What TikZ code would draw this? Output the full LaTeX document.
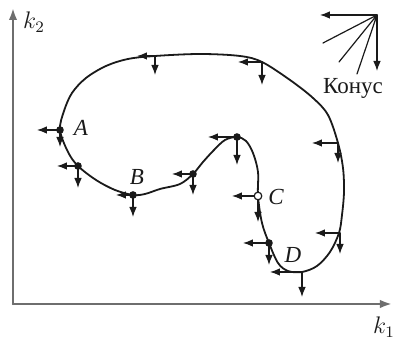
\documentclass[tikz,border=0pt]{standalone}
\usepackage{fontspec}
\setmainfont{Liberation Serif}
\usepackage{tikz}
\usetikzlibrary{arrows.meta,calc}
\definecolor{konink}{HTML}{1A1A1A}
\definecolor{konaxis}{HTML}{6E6E6E}
\begin{document}
\begin{tikzpicture}[x=0.5pt,y=-0.5pt,line cap=round,line join=round,
  font=\fontsize{11.5}{13}\selectfont,text=konink,
  arr/.style={draw=konink,line width=0.6pt,-{Latex[length=5pt,width=3.8pt]}},
  axis/.style={draw=konaxis,line width=1.1pt,-{Latex[length=6pt,width=4.2pt]}},
  dot/.style={circle,fill=konink,inner sep=0pt,minimum size=3.8pt},
  odot/.style={circle,draw=konink,fill=white,line width=0.6pt,inner sep=0pt,minimum size=3.8pt},
  lab/.style={font=\fontsize{11.5}{13}\selectfont\itshape}]
\path[use as bounding box] (0,0) rectangle (393,340);
\fill[white] (0,0) rectangle (393,340);

% axes
\coordinate (O) at (13,304);
\coordinate (xend) at (392,304);
\coordinate (yend) at (13,8);
\draw[axis] (O) -- (xend);
\draw[axis] (O) -- (yend);
\node[lab] (k1) at (384,327) {$k_1$};
\node[lab] (k2) at (34,22) {$k_2$};

% the boundary curve
\draw[konink,line width=0.9pt] plot[smooth cycle,tension=0.55] coordinates {
  (60,130)(64,111)(72,93)(86,78)(106,66)(128,59)(155,56)(200,54)(240,56)
  (262,62)(290,80)(313,98)(328,115)(338,143)(343,168)(344,192)(342,215)
  (339,233)(330,252)(317,266)(302,272)(288,271)(278,263)(269,243)(262,223)
  (258,196)(258,172)(253,153)(246,141)(237,137)(225,140)(214,150)(203,162)
  (193,174)(180,184)(160,189)(145,194)(133,195)(115,190)(96,180)(78,166)
  (68,152)};

% vectors: point / left end x / lower end y
\foreach \px/\py/\lx/\dy [count=\i] in {155/56/137/75, 262/62/238/85,
    338/143/312/163, 340/233/315/254, 302/272/270/297,
    60/130/37/147, 78/166/57/188, 133/195/116/217, 193/174/172/195,
    237/137/208/165, 258/196/232/222, 269/243/243/265} {
  \coordinate (v\i) at (\px,\py);
  \coordinate (vl\i) at (\lx,\py);
  \coordinate (vd\i) at (\px,\dy);
  \draw[arr] (v\i) -- (vl\i);
  \draw[arr] (v\i) -- (vd\i);
}

% marked points
\node[dot] (A) at (v6) {};
\node[dot] (p7) at (v7) {};
\node[dot] (B) at (v8) {};
\node[dot] (p9) at (v9) {};
\node[dot] (p10) at (v10) {};
\node[odot] (C) at (v11) {};
\node[dot] (D) at (v12) {};
\node[lab] (Alab) at (81,128) {A};
\node[lab] (Blab) at (137,177) {B};
\node[lab] (Clab) at (276,197) {C};
\node[lab] (Dlab) at (293,255) {D};

% cone
\coordinate (apex) at (377,15);
\coordinate (cl) at (320,15);
\coordinate (cd) at (377,71);
\coordinate (c1) at (323,43);
\coordinate (c2) at (339,62);
\coordinate (c3) at (357,74);
\draw[arr] (apex) -- (cl);
\draw[arr] (apex) -- (cd);
\draw[konink,line width=0.6pt] (apex) -- (c1) (apex) -- (c2) (apex) -- (c3);
\node (cone) at (353,88) {Конус};
\end{tikzpicture}
\end{document}
